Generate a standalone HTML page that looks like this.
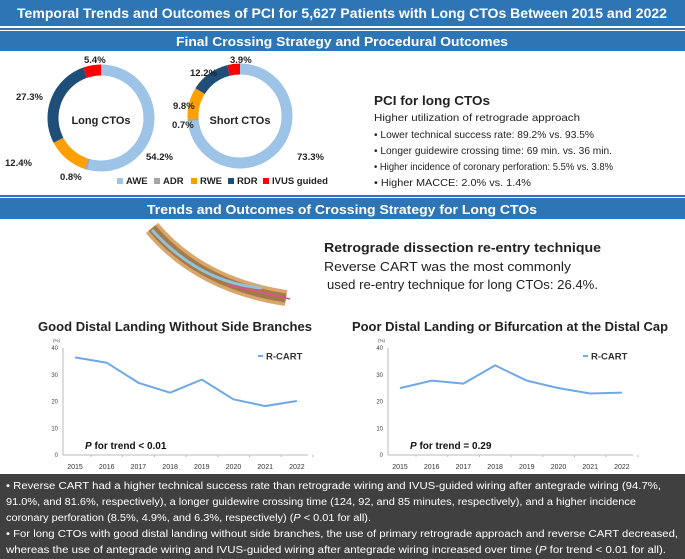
<!DOCTYPE html>
<html><head><meta charset="utf-8"><style>
body{margin:0;width:685px;height:559px;overflow:hidden;background:#fff;font-family:"Liberation Sans",sans-serif}
svg{display:block}
</style></head><body>
<svg width="685" height="559" viewBox="0 0 685 559" font-family="Liberation Sans, sans-serif">
<rect x="0" y="0" width="685" height="26" fill="#2e75b6"/>
<text x="342" y="18" text-anchor="middle" fill="#fff" font-size="14" font-weight="bold" textLength="650" lengthAdjust="spacingAndGlyphs">Temporal Trends and Outcomes of PCI for 5,627 Patients with Long CTOs Between 2015 and 2022</text>
<rect x="0" y="28" width="685" height="2" fill="#2e75b6"/>
<rect x="0" y="31" width="685" height="20" fill="#2e75b6"/>
<text x="342" y="46" text-anchor="middle" fill="#fff" font-size="13" font-weight="bold" textLength="332" lengthAdjust="spacingAndGlyphs">Final Crossing Strategy and Procedural Outcomes</text>

<g id="donuts"></g>
<text x="101" y="124" text-anchor="middle" font-size="11" font-weight="bold" fill="#222">Long CTOs</text>
<text x="240" y="124" text-anchor="middle" font-size="11" font-weight="bold" fill="#222">Short CTOs</text>
<g font-size="9.5" font-weight="bold" fill="#222">
<text x="84" y="63">5.4%</text><text x="16" y="100">27.3%</text><text x="5" y="166">12.4%</text><text x="60" y="180">0.8%</text><text x="146" y="160">54.2%</text>
<text x="230" y="63">3.9%</text><text x="190" y="76">12.2%</text><text x="173" y="109">9.8%</text><text x="172" y="128">0.7%</text><text x="297" y="160">73.3%</text>
</g>
<g font-size="9.5" font-weight="bold" fill="#222">
<rect x="117" y="178" width="6" height="6" fill="#9dc3e6"/><text x="126" y="184">AWE</text>
<rect x="154" y="178" width="6" height="6" fill="#a5a5a5"/><text x="163" y="184">ADR</text>
<rect x="191" y="178" width="6" height="6" fill="#ffa000"/><text x="200" y="184">RWE</text>
<rect x="228" y="178" width="6" height="6" fill="#1f4e79"/><text x="237" y="184">RDR</text>
<rect x="263" y="178" width="6" height="6" fill="#f00"/><text x="272" y="184">IVUS guided</text>
</g>

<g fill="#222">
<text x="374" y="105" font-size="13" font-weight="bold" textLength="116" lengthAdjust="spacingAndGlyphs">PCI for long CTOs</text>
<text x="374" y="121" font-size="10.5" textLength="206" lengthAdjust="spacingAndGlyphs">Higher utilization of retrograde approach</text>
<text x="374" y="138" font-size="10.5" textLength="220" lengthAdjust="spacingAndGlyphs">• Lower technical success rate: 89.2% vs. 93.5%</text>
<text x="374" y="154" font-size="10.5" textLength="238" lengthAdjust="spacingAndGlyphs">• Longer guidewire crossing time: 69 min. vs. 36 min.</text>
<text x="374" y="170" font-size="10.5" textLength="239" lengthAdjust="spacingAndGlyphs">• Higher incidence of coronary perforation: 5.5% vs. 3.8%</text>
<text x="374" y="186" font-size="10.5" textLength="157" lengthAdjust="spacingAndGlyphs">• Higher MACCE: 2.0% vs. 1.4%</text>
</g>

<rect x="0" y="195" width="685" height="2" fill="#2e75b6"/>
<rect x="0" y="198" width="685" height="21" fill="#2e75b6"/>
<text x="342" y="214" text-anchor="middle" fill="#fff" font-size="13" font-weight="bold" textLength="390" lengthAdjust="spacingAndGlyphs">Trends and Outcomes of Crossing Strategy for Long CTOs</text>

<g>
<path d="M152 228 Q200 285 286 298" stroke="#d9a66b" stroke-width="16" fill="none"/>
<path d="M152 228 Q200 285 286 298" stroke="#a57a4a" stroke-width="9" fill="none"/>
<path d="M152 230 Q200 283 262 288" stroke="#8fc3de" stroke-width="3" fill="none"/>
<path d="M228 285 Q260 292 290 299" stroke="#e0509a" stroke-width="1.5" fill="none"/>
</g>
<text x="324" y="252" font-size="13" font-weight="bold" fill="#222" textLength="277" lengthAdjust="spacingAndGlyphs">Retrograde dissection re-entry technique</text>
<text x="324" y="271" font-size="13" fill="#222" textLength="247" lengthAdjust="spacingAndGlyphs">Reverse CART was the most commonly</text>
<text x="327" y="289" font-size="13" fill="#222" textLength="271" lengthAdjust="spacingAndGlyphs">used re-entry technique for long CTOs: 26.4%.</text>

<text x="38" y="331" font-size="12.5" font-weight="bold" fill="#222" textLength="274" lengthAdjust="spacingAndGlyphs">Good Distal Landing Without Side Branches</text>
<text x="352" y="331" font-size="12.5" font-weight="bold" fill="#222" textLength="316" lengthAdjust="spacingAndGlyphs">Poor Distal Landing or Bifurcation at the Distal Cap</text>
<g id="charts"></g>

<rect x="0" y="474" width="685" height="85" fill="#404040"/>
<g fill="#fff" font-size="10">
<text x="6" y="489" textLength="655" lengthAdjust="spacingAndGlyphs">• Reverse CART had a higher technical success rate than retrograde wiring and IVUS-guided wiring after antegrade wiring (94.7%,</text>
<text x="6" y="505" textLength="630" lengthAdjust="spacingAndGlyphs">91.0%, and 81.6%, respectively), a longer guidewire crossing time (124, 92, and 85 minutes, respectively), and a higher incidence</text>
<text x="6" y="521" textLength="365" lengthAdjust="spacingAndGlyphs">coronary perforation (8.5%, 4.9%, and 6.3%, respectively) (<tspan font-style="italic">P</tspan> &lt; 0.01 for all).</text>
<text x="6" y="537" textLength="672" lengthAdjust="spacingAndGlyphs">• For long CTOs with good distal landing without side branches, the use of primary retrograde approach and reverse CART decreased,</text>
<text x="6" y="553" textLength="660" lengthAdjust="spacingAndGlyphs">whereas the use of antegrade wiring and IVUS-guided wiring after antegrade wiring increased over time (<tspan font-style="italic">P</tspan> for trend &lt; 0.01 for all).</text>
</g>
</svg>
<script>
const years=['2015','2016','2017','2018','2019','2020','2021','2022'];
const yTicks=[0,10,20,30,40];
const goodLanding=[36.5,34.5,27,23.3,28.2,20.8,18.3,20.2];
const poorLanding=[25,27.8,26.7,33.5,27.8,25,23,23.3];
const longCto=[54.2,0.8,12.4,27.3,5.4];
const shortCto=[73.3,0.7,9.8,12.2,3.9];
const segColors=['#9dc3e6','#a5a5a5','#ffa000','#1f4e79','#ff0000'];
const NS='http://www.w3.org/2000/svg';
function mk(t,a,p){const e=document.createElementNS(NS,t);for(const k in a)e.setAttribute(k,a[k]);p.appendChild(e);return e;}
function donut(vals,cx,cy,r,w,name){
  const g=document.getElementById('donuts');let a0=0;const tot=vals.reduce((s,v)=>s+v,0);
  vals.forEach((v,i)=>{const a1=a0+v/tot*2*Math.PI;
    const p=(a)=>[cx+r*Math.sin(a),cy-r*Math.cos(a)];
    const [x0,y0]=p(a0),[x1,y1]=p(a1);
    const e=mk('path',{d:`M${x0} ${y0} A${r} ${r} 0 ${a1-a0>Math.PI?1:0} 1 ${x1} ${y1}`,stroke:segColors[i],'stroke-width':w,fill:'none'},g);
    
    
    a0=a1;});
}
donut(longCto,101,118,48,11,'long-cto');
donut(shortCto,240,116,47,11,'short-cto');
function chart(vals,x0,ptxt,name){
  const g=document.getElementById('charts');
  const axX=x0, y0=455, per=26.75, xs=(i)=>x0+12+i*31.7, ys=(v)=>y0-v/10*per;
  mk('line',{x1:axX,y1:ys(40),x2:axX,y2:y0,stroke:'#bbb'},g);
  mk('line',{x1:axX,y1:y0,x2:axX+245,y2:y0,stroke:'#bbb'},g);
  yTicks.forEach(t=>{const e=mk('text',{x:axX-5,y:ys(t)+2,'text-anchor':'end','font-size':6,fill:'#444'},g);e.textContent=t;});
  const u=mk('text',{x:axX-10,y:ys(40)-6,'font-size':4.5,fill:'#444'},g);u.textContent='(%)';
  years.forEach((y,i)=>{mk('line',{x1:xs(i)+16,y1:y0,x2:xs(i)+16,y2:y0+2,stroke:'#bbb'},g);
    const e=mk('text',{x:xs(i),y:469,'text-anchor':'middle','font-size':7,fill:'#333'},g);e.textContent=y;});
  const l=mk('polyline',{points:vals.map((v,i)=>xs(i)+','+ys(v)).join(' '),fill:'none',stroke:'#6fa8e6','stroke-width':2},g);
  
  
  mk('line',{x1:axX+195,y1:ys(37),x2:axX+200,y2:ys(37),stroke:'#6fa8e6','stroke-width':2},g);
  const lt=mk('text',{x:axX+203,y:ys(37)+3.5,'font-size':9.5,'font-weight':'bold',fill:'#333'},g);lt.textContent='R-CART';
  const pt=mk('text',{x:axX+22,y:ys(3.7)+4,'font-size':10,'font-weight':'bold',fill:'#111'},g);
  pt.innerHTML='<tspan font-style="italic">P</tspan> '+ptxt;
}
chart(goodLanding,63,'for trend &lt; 0.01','chart1');
chart(poorLanding,388,'for trend = 0.29','chart2');
</script>
</body></html>
